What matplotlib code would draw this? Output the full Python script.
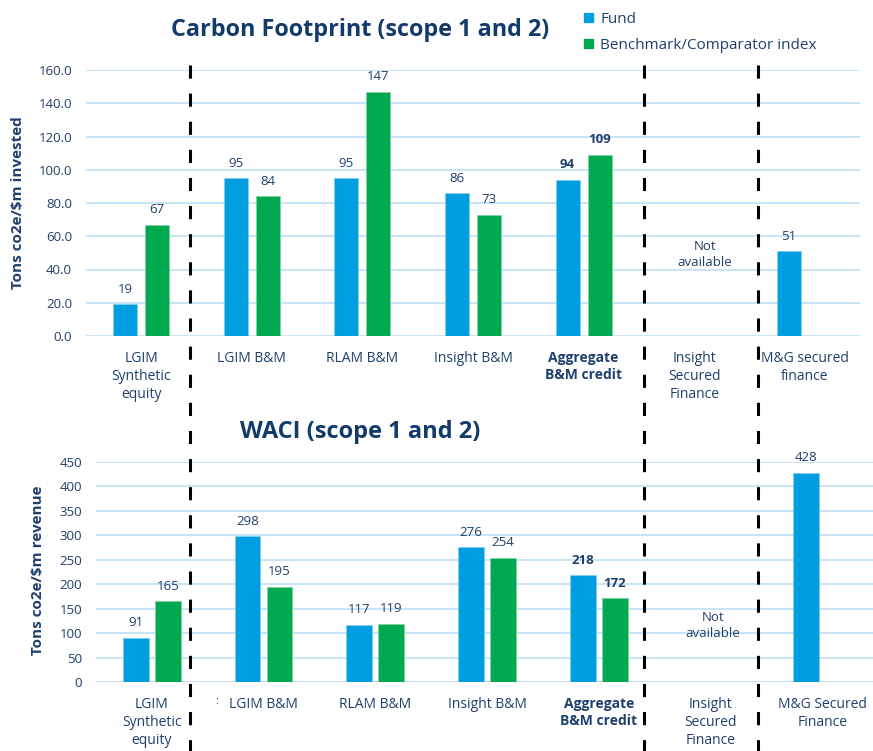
#import libraries
import matplotlib
matplotlib.use('Agg')
import matplotlib.pyplot as plt
from matplotlib.lines import Line2D
from matplotlib.patches import Patch
import numpy as np

plt.rcParams['font.family'] = ['Open Sans', 'DejaVu Sans']

#data
categories_top = ['LGIM\nSynthetic\nequity', 'LGIM B&M', 'RLAM B&M', 'Insight B&M',
                  'Aggregate\nB&M credit', 'Insight\nSecured\nFinance', 'M&G secured\nfinance']
categories_bottom = ['LGIM\nSynthetic\nequity', 'LGIM B&M', 'RLAM B&M', 'Insight B&M',
                     'Aggregate\nB&M credit', 'Insight\nSecured\nFinance', 'M&G Secured\nFinance']
footprint_fund = [19, 95, 95, 86, 94, np.nan, 51]
footprint_bench = [67, 84, 147, 73, 109, np.nan, np.nan]
waci_fund = [91, 298, 117, 276, 218, np.nan, 428]
waci_bench = [165, 195, 119, 254, 172, np.nan, np.nan]
top_ticks = [0, 20, 40, 60, 80, 100, 120, 140, 160]
bottom_ticks = [0, 50, 100, 150, 200, 250, 300, 350, 400, 450]

#colours
FUND = '#009ee0'
BENCH = '#00a94f'
NAVY = '#1f3f6c'
TITLE = '#123a6b'
GRID = '#c9e4f7'

W, H = 873, 751
fig = plt.figure(figsize=(W / 100, H / 100), dpi=100)


#This function draws one bar panel
def bar_panel(ax, cats, fund, bench, ticks, fmt, ylabel, width, off, na_xy, bold_idx=4):
    x = np.arange(len(cats))
    ax.bar(x - off, fund, width, color=FUND, edgecolor='#7fcdf0', linewidth=0.5, zorder=3)
    ax.bar(x + off, bench, width, color=BENCH, edgecolor='#7fd3a5', linewidth=0.5, zorder=3)

    #value labels
    for i in range(len(cats)):
        w = 'bold' if i == bold_idx else 'normal'
        for xv, v in ((x[i] - off, fund[i]), (x[i] + off, bench[i])):
            if not np.isnan(v):
                ax.annotate('%d' % v, (xv, v), xytext=(0, 6), textcoords='offset points',
                            ha='center', va='bottom', fontsize=9.5, color=NAVY, fontweight=w)

    ax.text(na_xy[0], na_xy[1], 'Not\navailable', ha='center', va='center',
            fontsize=9.5, color=NAVY, linespacing=1.25)

    ax.set_xlim(-0.5, len(cats) - 0.5)
    ax.set_ylim(ticks[0], ticks[-1])
    ax.set_yticks(ticks)
    ax.set_yticklabels([fmt % t for t in ticks], fontsize=9.5, color=NAVY)
    ax.set_xticks(x)
    ax.set_xticklabels(cats, fontsize=10, color=NAVY, linespacing=1.25, va='top')
    ax.get_xticklabels()[bold_idx].set_fontweight('bold')
    ax.tick_params(length=0)
    ax.tick_params(axis='y', pad=10)
    ax.tick_params(axis='x', pad=11)
    for s in ax.spines.values():
        s.set_visible(False)
    ax.yaxis.grid(True, color=GRID, linewidth=1.4, zorder=0)
    ax.set_axisbelow(True)
    ax.set_ylabel(ylabel, fontsize=11, fontweight='bold', color=NAVY)


#Carbon footprint
ax1 = fig.add_axes([86 / W, 1 - 336 / H, 774 / W, 266 / H])
bar_panel(ax1, categories_top, footprint_fund, footprint_bench, top_ticks, '%.1f',
          'Tons co2e/$m invested', 0.217, 0.145, (5.1, 49))
ax1.yaxis.set_label_coords(-0.079, 0.5)

#WACI
ax2 = fig.add_axes([96 / W, 1 - 682 / H, 782 / W, 220 / H])
bar_panel(ax2, categories_bottom, waci_fund, waci_bench, bottom_ticks, '%d',
          'Tons co2e/$m revenue', 0.23, 0.143, (5.02, 116))
ax2.yaxis.set_label_coords(-0.065, 0.51)
#stray colon from the source
ax2.text(0.58, -0.09, ':', transform=ax2.get_xaxis_transform(), fontsize=8,
         color=NAVY, ha='center', va='center')

#titles
fig.text(360 / W, 1 - 30 / H, 'Carbon Footprint (scope 1 and 2)', ha='center', va='center',
         fontsize=16.8, fontweight='bold', color=TITLE)
fig.text(360 / W, 1 - 432 / H, 'WACI (scope 1 and 2)', ha='center', va='center',
         fontsize=17, fontweight='bold', color=TITLE)

#legend
handles = [Patch(color=FUND), Patch(color=BENCH)]
fig.legend(handles, ['Fund', 'Benchmark/Comparator index'], loc='upper left',
           bbox_to_anchor=(578 / W, 1 - 6 / H), frameon=False, fontsize=11,
           handlelength=0.55, handleheight=0.55, handletextpad=0.5, labelspacing=0.7,
           labelcolor=NAVY, borderaxespad=0)

#dashed separators
for xp in (190, 644, 758):
    fig.add_artist(Line2D([xp / W, xp / W], [1 - 65 / H, 0], transform=fig.transFigure,
                          color='black', linewidth=2.2, dashes=(4.3, 4.9)))

fig.savefig('out.png', dpi=100)
